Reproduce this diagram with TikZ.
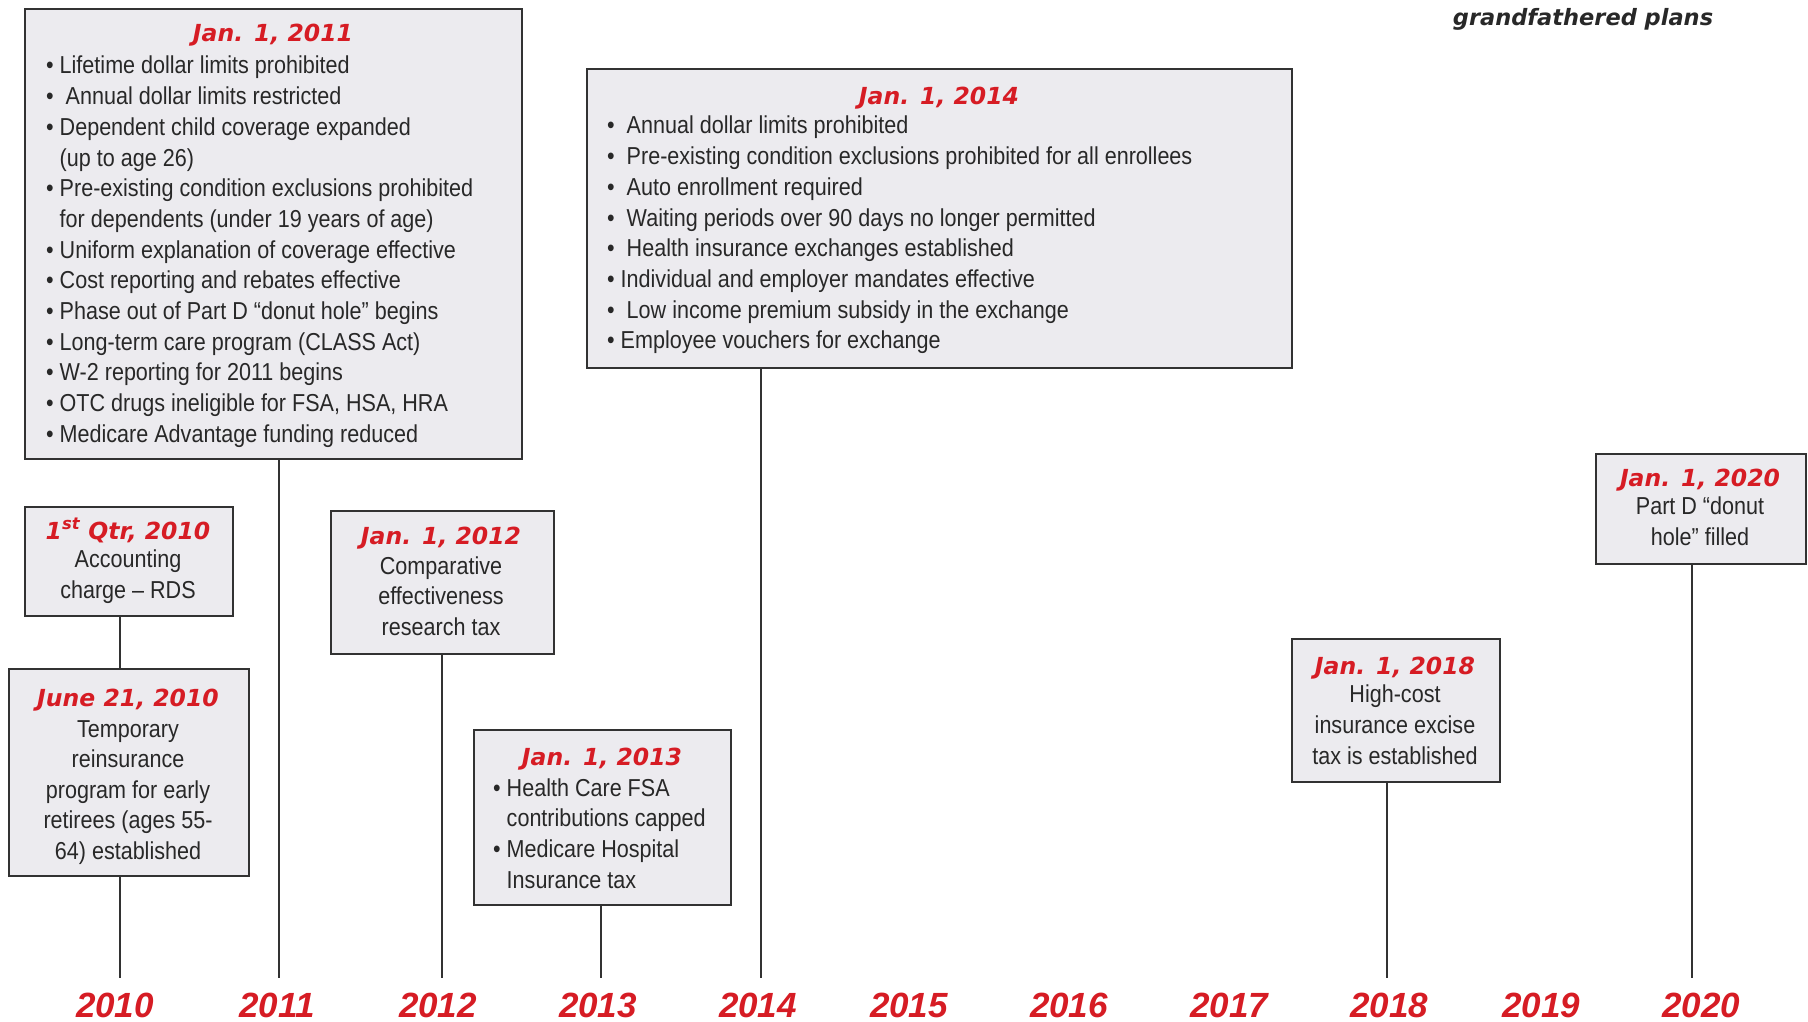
\documentclass[tikz,border=0pt]{standalone}
\usepackage{fontspec}
\setmainfont{Liberation Sans}
\newfontfamily\narrow{Liberation Sans}[FakeStretch=0.88]
\newfontfamily\headfont{DejaVu Sans}
\definecolor{hred}{RGB}{214,28,36}
\definecolor{txt}{RGB}{40,40,40}
\definecolor{boxfill}{RGB}{236,235,239}
\definecolor{boxline}{RGB}{50,50,50}
\tikzset{
  evbox/.style={draw=boxline, line width=1.8pt, fill=boxfill, inner sep=0pt, anchor=north west},
  datehead/.style={text=hred, font=\headfont\bfseries\itshape\fontsize{23.5}{28}\selectfont, anchor=base, inner sep=0pt},
  bodytext/.style={text=txt, font=\narrow\fontsize{24.5}{29}\selectfont, inner sep=0pt},
  yearlab/.style={text=hred, font=\bfseries\itshape\fontsize{35}{40}\selectfont, anchor=base, inner sep=0pt},
  tick/.style={draw=boxline, line width=1.5pt},
}
\begin{document}
\begin{tikzpicture}[x=1pt,y=-1pt]
\useasboundingbox (0,0) rectangle (1808,1022);
% line end coordinates
\coordinate (e2010) at (120,978);
\coordinate (e2011) at (279,978);
\coordinate (e2012) at (442,978);
\coordinate (e2013) at (601,978);
\coordinate (e2014) at (761,978);
\coordinate (e2018) at (1387,978);
\coordinate (e2020) at (1692,978);
% boxes
\node[evbox, minimum width=497pt, minimum height=450pt] (b2011) at (24,8) {};
\node[evbox, minimum width=208pt, minimum height=109pt] (b1q) at (24,506) {};
\node[evbox, minimum width=240pt, minimum height=207pt] (bjune) at (8,668) {};
\node[evbox, minimum width=223pt, minimum height=143pt] (b2012) at (330,510) {};
\node[evbox, minimum width=257pt, minimum height=175pt] (b2013) at (473,729) {};
\node[evbox, minimum width=705pt, minimum height=299pt] (b2014) at (586,68) {};
\node[evbox, minimum width=208pt, minimum height=143pt] (b2018) at (1291,638) {};
\node[evbox, minimum width=210pt, minimum height=110pt] (b2020) at (1595,453) {};
% connectors
\draw[tick] (b1q.south -| e2010) -- (bjune.north -| e2010);
\draw[tick] (bjune.south -| e2010) -- (e2010);
\draw[tick] (b2011.south -| e2011) -- (e2011);
\draw[tick] (b2012.south -| e2012) -- (e2012);
\draw[tick] (b2013.south -| e2013) -- (e2013);
\draw[tick] (b2014.south -| e2014) -- (e2014);
\draw[tick] (b2018.south -| e2018) -- (e2018);
\draw[tick] (b2020.south -| e2020) -- (e2020);
% headers
\node[datehead] (h2011) at (273,42) {Jan. 1, 2011};
\node[datehead] (h1q) at (128,539) {1\textsuperscript{st} Qtr, 2010};
\node[datehead] (hjune) at (128,706) {June 21, 2010};
\node[datehead] (h2012) at (441,544) {Jan. 1, 2012};
\node[datehead] (h2013) at (602,765) {Jan. 1, 2013};
\node[datehead] (h2014) at (939,105) {Jan. 1, 2014};
\node[datehead] (h2018) at (1395,674) {Jan. 1, 2018};
\node[datehead] (h2020) at (1700,486) {Jan. 1, 2020};
% 2011 list
\foreach \t [count=\i] in {
  {• Lifetime dollar limits prohibited},
  {•\ \ Annual dollar limits restricted},
  {• Dependent child coverage expanded},
  {\phantom{• }(up to age 26)},
  {• Pre-existing condition exclusions prohibited},
  {\phantom{• }for dependents (under 19 years of age)},
  {• Uniform explanation of coverage effective},
  {• Cost reporting and rebates effective},
  {• Phase out of Part D “donut hole” begins},
  {• Long-term care program (CLASS Act)},
  {• W-2 reporting for 2011 begins},
  {• OTC drugs ineligible for FSA, HSA, HRA},
  {• Medicare Advantage funding reduced}}
  \node[bodytext, anchor=base west] (t11-\i) at (46,{74+30.67*(\i-1)}) {\t};
% 2014 list
\foreach \t [count=\i] in {
  {•\ \ Annual dollar limits prohibited},
  {•\ \ Pre-existing condition exclusions prohibited for all enrollees},
  {•\ \ Auto enrollment required},
  {•\ \ Waiting periods over 90 days no longer permitted},
  {•\ \ Health insurance exchanges established},
  {• Individual and employer mandates effective},
  {•\ \ Low income premium subsidy in the exchange},
  {• Employee vouchers for exchange}}
  \node[bodytext, anchor=base west] (t14-\i) at (607,{134+30.7*(\i-1)}) {\t};
% 2013 list
\foreach \t [count=\i] in {
  {• Health Care FSA},
  {\phantom{• }contributions capped},
  {• Medicare Hospital},
  {\phantom{• }Insurance tax}}
  \node[bodytext, anchor=base west] (t13-\i) at (493,{796+30.7*(\i-1)}) {\t};
% centred texts
\foreach \t [count=\i] in {{Accounting},{charge – RDS}}
  \node[bodytext, anchor=base] (t1q-\i) at (128,{567+31*(\i-1)}) {\t};
\foreach \t [count=\i] in {{Temporary},{reinsurance},{program for early},{retirees (ages 55-},{64) established}}
  \node[bodytext, anchor=base] (tj-\i) at (128,{737+30.5*(\i-1)}) {\t};
\foreach \t [count=\i] in {{Comparative},{effectiveness},{research tax}}
  \node[bodytext, anchor=base] (t12-\i) at (441,{574+30.5*(\i-1)}) {\t};
\foreach \t [count=\i] in {{High-cost},{insurance excise},{tax is established}}
  \node[bodytext, anchor=base] (t18-\i) at (1395,{702+31*(\i-1)}) {\t};
\foreach \t [count=\i] in {{Part D “donut},{hole” filled}}
  \node[bodytext, anchor=base] (t20-\i) at (1700,{514+31*(\i-1)}) {\t};
% top right fragment
\node[text=txt, font=\headfont\bfseries\itshape\fontsize{22.5}{27}\selectfont, anchor=base, inner sep=0pt] (gf) at (1583,26) {grandfathered plans};
% years
\foreach \yr/\x in {2010/115,2011/277,2012/438,2013/598,2014/758,2015/909,2016/1069,2017/1229,2018/1389,2019/1541,2020/1701}
  \node[yearlab] (yr\yr) at (\x,1017) {\yr};
\end{tikzpicture}
\end{document}
